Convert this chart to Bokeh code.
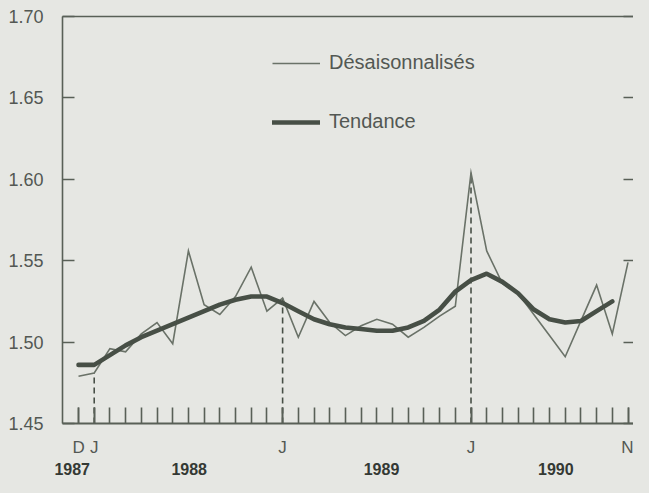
from bokeh.plotting import figure
from bokeh.models import LinearAxis, FixedTicker, Range1d, Legend, LegendItem
from bokeh.embed import file_html
from bokeh.resources import INLINE
import numpy as np

# ---- data -------------------------------------------------------------
months = ["1987-12",
          "1988-01", "1988-02", "1988-03", "1988-04", "1988-05", "1988-06",
          "1988-07", "1988-08", "1988-09", "1988-10", "1988-11", "1988-12",
          "1989-01", "1989-02", "1989-03", "1989-04", "1989-05", "1989-06",
          "1989-07", "1989-08", "1989-09", "1989-10", "1989-11", "1989-12",
          "1990-01", "1990-02", "1990-03", "1990-04", "1990-05", "1990-06",
          "1990-07", "1990-08", "1990-09", "1990-10", "1990-11"]

desaisonnalises = [1.479,
                   1.481, 1.496, 1.494, 1.505, 1.512, 1.499,
                   1.556, 1.523, 1.517, 1.528, 1.546, 1.519,
                   1.527, 1.503, 1.525, 1.512, 1.504, 1.510,
                   1.514, 1.511, 1.503, 1.509, 1.516, 1.522,
                   1.604, 1.556, 1.536, 1.530, 1.517, 1.504,
                   1.491, 1.513, 1.535, 1.505, 1.549]

tendance = [1.486,
            1.486, 1.492, 1.498, 1.503, 1.507, 1.511,
            1.515, 1.519, 1.523, 1.526, 1.528, 1.528,
            1.524, 1.519, 1.514, 1.511, 1.509, 1.508,
            1.507, 1.507, 1.509, 1.513, 1.520, 1.531,
            1.538, 1.542, 1.537, 1.530, 1.520, 1.514,
            1.512, 1.513, 1.519, 1.525, None]

month_tick_months = ["1987-12", "1988-01", "1989-01", "1990-01", "1990-11"]
month_tick_labels = ["D", "J", "J", "J", "N"]
dashed_months = ["1988-01", "1989-01", "1990-01"]

years = ["1987", "1988", "1989", "1990"]
y_ticks = [1.45, 1.50, 1.55, 1.60, 1.65, 1.70]

# ---- layout / style ---------------------------------------------------
year_label_pos = [-0.4, 7.05, 19.3, 30.4]
BG = "#e6e7e3"
THIN = "#6a7268"
THICK = "#474f46"
AXIS = "#596057"
TXT = "#535853"
YTXT = "#343934"
FONT = "Liberation Sans"

idx = list(range(len(months)))
trend_vals = [np.nan if v is None else v for v in tendance]

p = figure(width=633, height=477, output_backend="svg", toolbar_location=None,
           x_range=Range1d(-1.02, 35.35), y_range=Range1d(y_ticks[0], y_ticks[-1]),
           min_border_left=62, min_border_top=16, min_border_right=0,
           min_border_bottom=54, x_axis_type=None, y_axis_type=None)
p.background_fill_color = BG
p.border_fill_color = BG
p.outline_line_color = None
p.xgrid.visible = False
p.ygrid.visible = False

# dashed verticals from the axis up to the series
dx = [months.index(m) for m in dashed_months]
p.segment(x0=dx, x1=dx, y0=[y_ticks[0]] * len(dx),
          y1=[desaisonnalises[i] for i in dx],
          line_color=THICK, line_width=1.6, line_dash="6 4")

r1 = p.line(idx, desaisonnalises, line_color=THIN, line_width=1.6,
            line_join="miter")
r2 = p.line(idx, trend_vals, line_color=THICK, line_width=4.6,
            line_join="round", line_cap="round")

# left axis
yl = LinearAxis(ticker=FixedTicker(ticks=y_ticks))
yl.major_label_overrides = {t: f"{t:.2f}" for t in y_ticks}
yl.major_tick_in = 12
yl.major_tick_out = 0
yl.minor_tick_line_color = None
yl.major_label_standoff = 19
yl.axis_line_color = AXIS
yl.axis_line_width = 1.6
yl.major_tick_line_color = AXIS
yl.major_tick_line_width = 1.6
yl.major_label_text_font = FONT
yl.major_label_text_font_size = "18px"
yl.major_label_text_color = TXT
p.add_layout(yl, "left")

# right axis: inward ticks only (minor ticks, no labels)
yr = LinearAxis(ticker=FixedTicker(ticks=[], minor_ticks=y_ticks))
yr.minor_tick_in = 10
yr.minor_tick_out = 0
yr.major_tick_line_color = None
yr.major_label_standoff = 0
yr.axis_line_color = None
yr.minor_tick_line_color = AXIS
yr.minor_tick_line_width = 1.6
p.add_layout(yr, "right")

# top frame line
xt = LinearAxis(ticker=FixedTicker(ticks=[], minor_ticks=[]))
xt.major_label_standoff = 0
xt.major_tick_out = 0
xt.minor_tick_out = 0
xt.axis_line_color = AXIS
xt.axis_line_width = 1.6
p.add_layout(xt, "above")

# bottom month axis: a tick every month, labels on a few
lab_idx = [months.index(m) for m in month_tick_months]
xb = LinearAxis(ticker=FixedTicker(ticks=lab_idx, minor_ticks=idx))
xb.major_label_overrides = dict(zip(lab_idx, month_tick_labels))
xb.major_tick_in = 16
xb.major_tick_out = 0
xb.minor_tick_in = 16
xb.minor_tick_out = 0
xb.major_label_standoff = 14
xb.axis_line_color = AXIS
xb.axis_line_width = 1.8
xb.major_tick_line_color = AXIS
xb.major_tick_line_width = 1.6
xb.minor_tick_line_color = AXIS
xb.minor_tick_line_width = 1.6
xb.major_label_text_font = FONT
xb.major_label_text_font_size = "17px"
xb.major_label_text_color = TXT
p.add_layout(xb, "below")

# year labels
xy = LinearAxis(ticker=FixedTicker(ticks=year_label_pos, minor_ticks=[]))
xy.major_label_overrides = dict(zip(year_label_pos, years))
xy.axis_line_color = None
xy.major_tick_line_color = None
xy.minor_tick_line_color = None
xy.major_tick_out = 0
xy.major_tick_in = 0
xy.major_label_standoff = 3
xy.major_label_text_font = FONT
xy.major_label_text_font_style = "bold"
xy.major_label_text_font_size = "16px"
xy.major_label_text_color = YTXT
p.add_layout(xy, "below")

legend = Legend(items=[LegendItem(label="Désaisonnalisés", renderers=[r1]),
                       LegendItem(label="Tendance", renderers=[r2])],
                location=(210, 290))
legend.border_line_color = None
legend.background_fill_alpha = 0
legend.padding = 0
legend.margin = 0
legend.glyph_width = 48
legend.glyph_height = 20
legend.label_height = 20
legend.spacing = 36
legend.label_standoff = 9
legend.label_text_font = FONT
legend.label_text_font_size = "20px"
legend.label_text_color = TXT
p.add_layout(legend)

html = file_html(p, INLINE)
html = html.replace("</head>", "<style>html,body{background:%s}</style></head>" % BG, 1)
open("out.html", "w").write(html)
